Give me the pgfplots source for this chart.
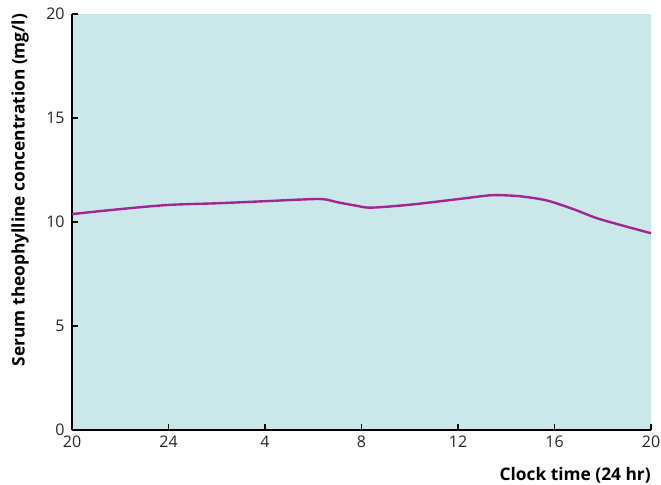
\documentclass[border=0pt]{standalone}
\usepackage{fontspec}
\setmainfont{Open Sans}
\usepackage{pgfplots}
\pgfplotsset{compat=1.18}
\definecolor{bg}{HTML}{CAE8EA}
\definecolor{curve}{HTML}{A2268F}
\begin{document}
\begin{tikzpicture}
\begin{axis}[
  scale only axis, width=434.25pt, height=312pt,
  xmin=0, xmax=24, ymin=0, ymax=20,
  axis lines*=left,
  axis line style={line width=1.8pt, black},
  axis background/.style={fill=bg},
  tick align=inside,
  major tick length=4.5pt,
  tick style={black, line width=1.4pt},
  xtick={0,4,8,12,16,20,24},
  xticklabels={20,24,4,8,12,16,20},
  ytick={0,5,10,15,20},
  /pgf/number format/assume math mode=true,
  ticklabel style={font=\fontsize{12}{14}\selectfont, text=black!85},
  xticklabel style={yshift=-1pt},
  yticklabel style={xshift=-2pt},
  xlabel={\textbf{Clock time (24 hr)}},
  xlabel style={at={(rel axis cs:1,0)}, anchor=north east, yshift=-28pt, inner sep=0pt, font=\fontsize{13}{15}\selectfont},
  ylabel={\textbf{Serum theophylline concentration (mg/l)}},
  ylabel style={at={(rel axis cs:0,0.577)}, anchor=center, rotate=0, yshift=39pt, inner sep=0pt, font=\fontsize{13}{15}\selectfont},
  clip=false,
]
\addplot[curve, line width=1.8pt, smooth, tension=0.5] coordinates {
(0,10.38) (2,10.62) (4,10.82) (6,10.90) (8,11.00) (9.5,11.08) (10.4,11.10)
(11.0,10.95) (11.8,10.78) (12.4,10.69) (14,10.83) (16,11.10) (17.3,11.28)
(18,11.28) (18.7,11.22) (19.7,11.03) (20.8,10.61) (21.9,10.13) (24,9.46)
};
\coordinate (O) at (rel axis cs:0,0);
\coordinate (T) at (rel axis cs:1,1);
\end{axis}
\pgfresetboundingbox
\path ([xshift=-54pt,yshift=-41.25pt]O) rectangle ([xshift=7.5pt,yshift=10.5pt]T);
\end{tikzpicture}
\end{document}
